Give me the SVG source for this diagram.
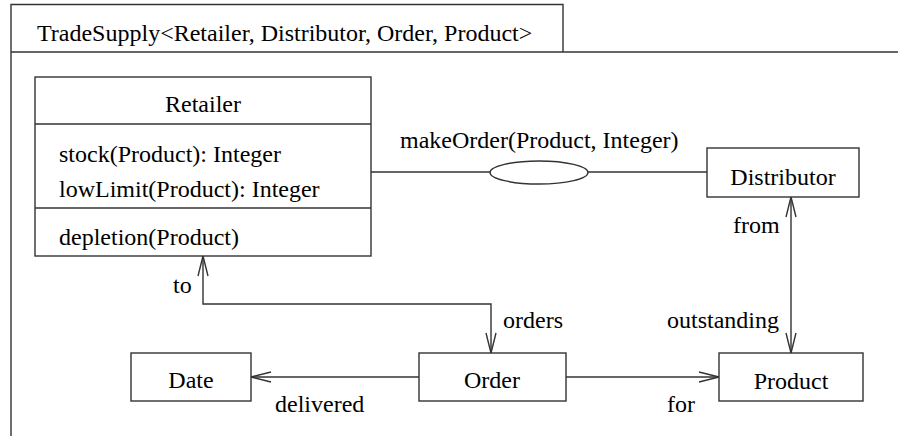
<svg xmlns="http://www.w3.org/2000/svg" width="898" height="436" viewBox="0 0 898 436">
<defs>
<style>
text{font-family:'Liberation Serif','Times New Roman',Times,serif;font-size:24px;fill:#000}
.m{text-anchor:middle}
.b{fill:#fff;stroke:#333;stroke-width:1.4}
.l{fill:none;stroke:#333;stroke-width:1.4}
</style>
<marker id="ah" viewBox="0 0 22 12" refX="21" refY="6" markerWidth="22" markerHeight="12" markerUnits="userSpaceOnUse" orient="auto-start-reverse">
<path d="M1,1 L21,6 L1,11" fill="none" stroke="#333" stroke-width="1.4"/>
</marker>
</defs>
<rect width="898" height="436" fill="#fff"/>
<g id="frame">
<path class="l" d="M11,436 V4.5 H563 V52"/>
<path class="l" d="M11,52 H898"/>
<text font-family="Liberation Serif, serif" x="37" y="41">TradeSupply&lt;Retailer, Distributor, Order, Product&gt;</text>
</g>
<g id="connectors">
<line class="l" x1="371" y1="172" x2="707" y2="172"/>
<ellipse cx="539" cy="172.5" rx="49" ry="11.5" class="b"/>
<text x="400" y="148">makeOrder(Product, Integer)</text>
<line class="l" x1="791" y1="197" x2="791" y2="353" marker-start="url(#ah)" marker-end="url(#ah)"/>
<text x="733" y="233">from</text>
<text x="667" y="328">outstanding</text>
<polyline class="l" points="203,256 203,304 491,304 491,353" marker-start="url(#ah)" marker-end="url(#ah)"/>
<text x="173" y="293">to</text>
<text x="503" y="328">orders</text>
<line class="l" x1="419" y1="377" x2="251" y2="377" marker-end="url(#ah)"/>
<text x="275" y="412">delivered</text>
<line class="l" x1="566" y1="377" x2="719" y2="377" marker-end="url(#ah)"/>
<text x="667" y="412">for</text>
</g>
<g id="retailer">
<rect class="b" x="35" y="77" width="336" height="179"/>
<line class="l" x1="35" y1="124" x2="371" y2="124"/>
<line class="l" x1="35" y1="208" x2="371" y2="208"/>
<text class="m" x="203" y="112">Retailer</text>
<text x="59" y="162">stock(Product): Integer</text>
<text x="59" y="197">lowLimit(Product): Integer</text>
<text x="59" y="245">depletion(Product)</text>
</g>
<g id="distributor">
<rect class="b" x="707" y="148" width="152" height="49"/>
<text class="m" x="783" y="185">Distributor</text>
</g>
<g id="order">
<rect class="b" x="419" y="353" width="147" height="48"/>
<text class="m" x="492" y="388">Order</text>
</g>
<g id="date">
<rect class="b" x="131" y="353" width="120" height="48"/>
<text class="m" x="191" y="388">Date</text>
</g>
<g id="product">
<rect class="b" x="719" y="353" width="144" height="48"/>
<text class="m" x="791" y="389">Product</text>
</g>
</svg>
